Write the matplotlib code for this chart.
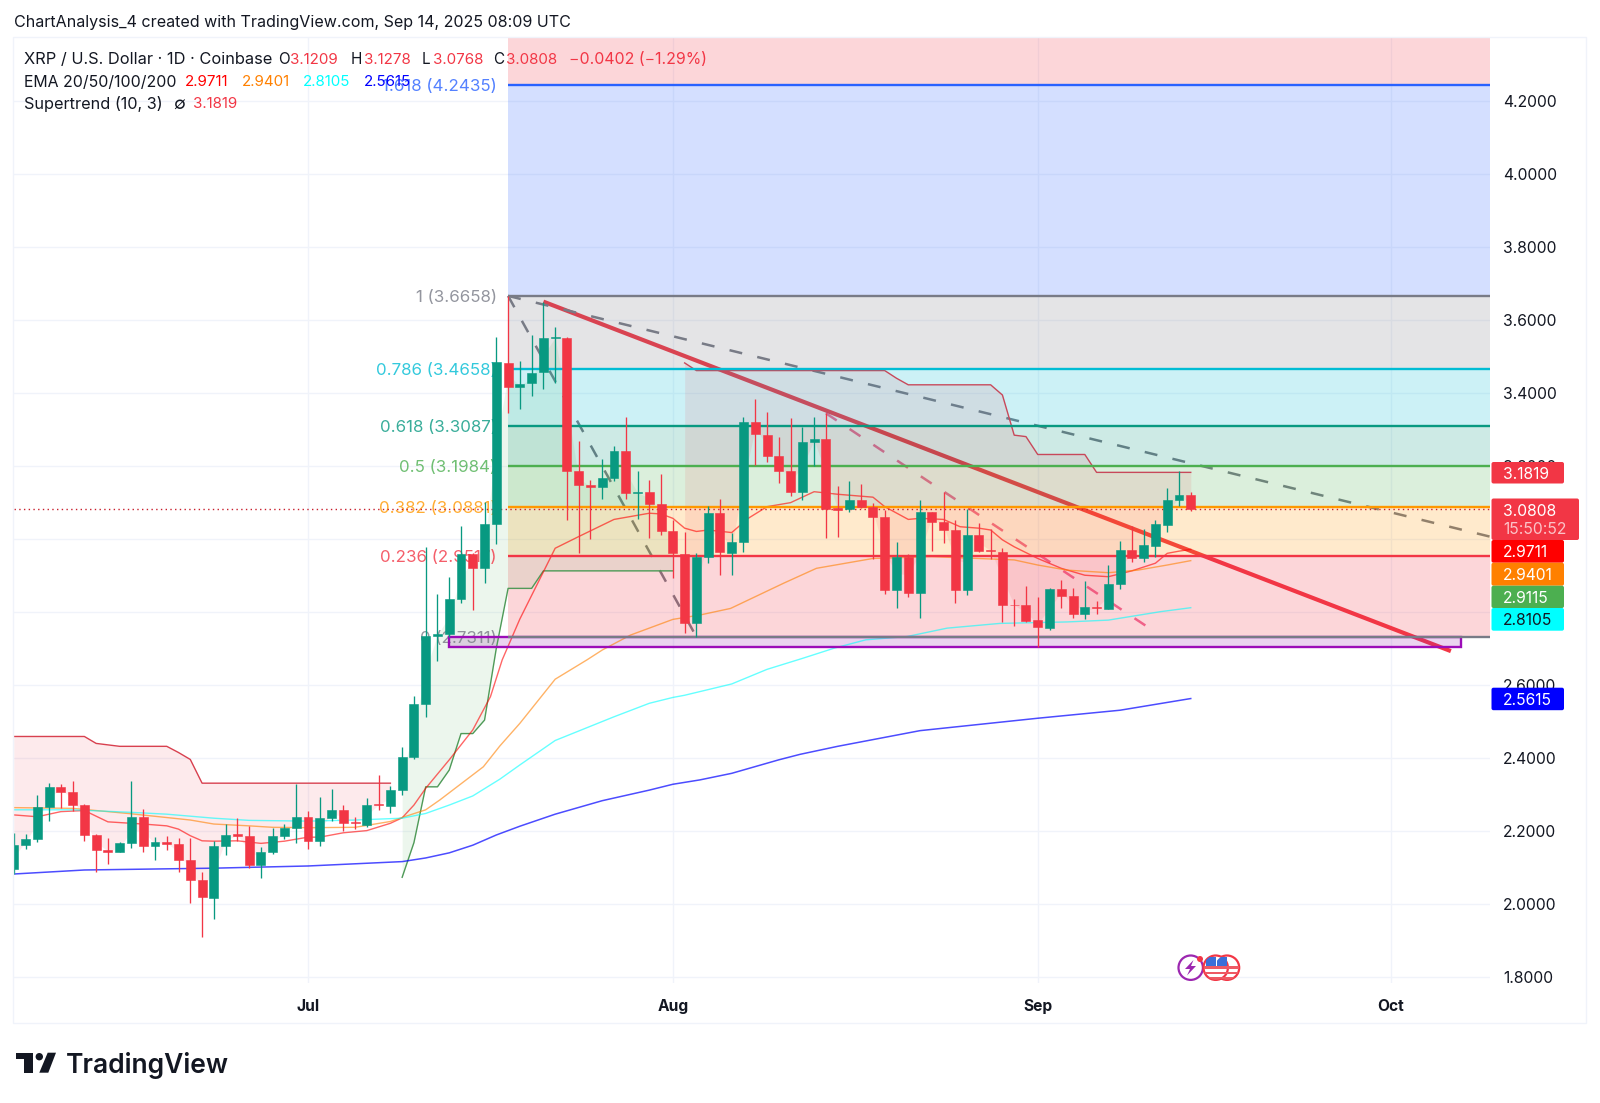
import numpy as np
import matplotlib
matplotlib.use('Agg')
import matplotlib.pyplot as plt
from matplotlib.patches import Rectangle, Circle, Polygon, FancyBboxPatch

plt.rcParams['font.family'] = ['Inter', 'DejaVu Sans']

# daily candles, day 0 = Jul 1 2025, last one = Sep 14
first_day = -25
opens = [2.095, 2.160, 2.176, 2.266, 2.320, 2.306, 2.270, 2.189, 2.147, 2.140,
         2.166, 2.237, 2.158, 2.170, 2.163, 2.119, 2.065, 2.016, 2.158, 2.190,
         2.186, 2.105, 2.141, 2.185, 2.206, 2.236, 2.172, 2.234, 2.257, 2.224,
         2.215, 2.273, 2.268, 2.311, 2.403, 2.547, 2.734, 2.739, 2.836, 2.958,
         2.919, 3.040, 3.483, 3.415, 3.426, 3.456, 3.550, 3.550, 3.185, 3.146,
         3.142, 3.166, 3.240, 3.125, 3.127, 3.096, 3.021, 2.958, 2.768, 2.949,
         3.071, 2.962, 2.991, 3.319, 3.285, 3.227, 3.187, 3.129, 3.266, 3.274,
         3.083, 3.081, 3.106, 3.088, 3.061, 2.860, 2.951, 2.850, 3.072, 3.046,
         3.024, 2.859, 3.011, 2.968, 2.965, 2.819, 2.818, 2.776, 2.756, 2.862,
         2.844, 2.794, 2.812, 2.807, 2.877, 2.969, 2.947, 2.981, 3.039, 3.106,
         3.121]
highs = [2.193, 2.192, 2.298, 2.331, 2.327, 2.337, 2.273, 2.191, 2.179, 2.170,
         2.337, 2.258, 2.183, 2.185, 2.179, 2.179, 2.087, 2.172, 2.217, 2.234,
         2.213, 2.155, 2.208, 2.219, 2.328, 2.254, 2.293, 2.314, 2.269, 2.236,
         2.289, 2.353, 2.322, 2.430, 2.570, 2.978, 2.849, 2.896, 3.035, 2.960,
         3.102, 3.552, 3.666, 3.487, 3.559, 3.650, 3.581, 3.552, 3.267, 3.161,
         3.220, 3.254, 3.333, 3.186, 3.161, 3.178, 3.051, 3.019, 2.962, 3.091,
         3.108, 3.017, 3.335, 3.383, 3.348, 3.278, 3.332, 3.307, 3.335, 3.344,
         3.145, 3.157, 3.150, 3.097, 3.079, 2.992, 2.957, 3.106, 3.072, 3.127,
         3.051, 3.081, 3.042, 3.026, 2.976, 2.835, 2.871, 2.839, 2.864, 2.887,
         2.864, 2.885, 2.829, 2.927, 2.995, 3.035, 3.026, 3.051, 3.138, 3.187,
         3.128]
lows = [2.081, 2.149, 2.170, 2.225, 2.263, 2.255, 2.172, 2.087, 2.109, 2.140,
        2.153, 2.141, 2.119, 2.147, 2.087, 2.001, 1.909, 1.959, 2.134, 2.172,
        2.097, 2.069, 2.135, 2.176, 2.165, 2.149, 2.158, 2.225, 2.199, 2.204,
        2.210, 2.256, 2.249, 2.298, 2.395, 2.512, 2.665, 2.732, 2.823, 2.805,
        2.880, 2.987, 3.344, 3.355, 3.390, 3.411, 3.426, 3.051, 2.962, 3.000,
        3.109, 3.157, 3.109, 3.055, 3.001, 3.010, 2.892, 2.741, 2.731, 2.933,
        2.900, 2.902, 2.965, 3.202, 3.210, 3.154, 3.118, 3.106, 3.200, 3.001,
        3.006, 3.074, 3.083, 2.944, 2.849, 2.810, 2.841, 2.783, 2.967, 2.989,
        2.823, 2.847, 2.963, 2.945, 2.773, 2.762, 2.771, 2.702, 2.750, 2.811,
        2.784, 2.779, 2.793, 2.807, 2.863, 2.935, 2.935, 2.951, 3.019, 3.091,
        3.077]
closes = [2.161, 2.176, 2.266, 2.320, 2.306, 2.270, 2.189, 2.147, 2.140, 2.165,
          2.237, 2.158, 2.170, 2.163, 2.119, 2.065, 2.018, 2.159, 2.189, 2.185,
          2.105, 2.142, 2.186, 2.207, 2.236, 2.172, 2.235, 2.257, 2.222, 2.221,
          2.270, 2.269, 2.311, 2.403, 2.547, 2.733, 2.738, 2.836, 2.958, 2.919,
          3.040, 3.485, 3.415, 3.425, 3.454, 3.551, 3.553, 3.185, 3.146, 3.142,
          3.166, 3.240, 3.125, 3.128, 3.096, 3.022, 2.960, 2.768, 2.949, 3.071,
          2.963, 2.991, 3.321, 3.286, 3.227, 3.187, 3.129, 3.266, 3.274, 3.082,
          3.080, 3.106, 3.088, 3.061, 2.860, 2.951, 2.850, 3.072, 3.046, 3.024,
          2.859, 3.011, 2.967, 2.967, 2.818, 2.818, 2.775, 2.759, 2.862, 2.844,
          2.794, 2.812, 2.809, 2.877, 2.969, 2.948, 2.984, 3.040, 3.105, 3.120,
          3.081]

# supertrend, one value per candle in each of the three runs
st_down1 = [2.458, 2.458, 2.458, 2.458, 2.458, 2.458, 2.458, 2.439, 2.435, 2.431,
            2.431, 2.431, 2.431, 2.431, 2.414, 2.395, 2.330, 2.330, 2.330, 2.330,
            2.330, 2.330, 2.330, 2.330, 2.330, 2.330, 2.330, 2.330, 2.330, 2.330,
            2.330, 2.330, 2.330]
st_up = [2.072, 2.167, 2.320, 2.320, 2.366, 2.466, 2.466, 2.503, 2.700, 2.864,
         2.864, 2.864, 2.912, 2.912, 2.912, 2.912, 2.912, 2.912, 2.912, 2.912,
         2.912, 2.912, 2.912, 2.912]
st_down2 = [3.482, 3.461, 3.461, 3.461, 3.461, 3.461, 3.461, 3.461, 3.461, 3.461,
            3.461, 3.461, 3.461, 3.461, 3.461, 3.461, 3.461, 3.461, 3.440, 3.422,
            3.422, 3.422, 3.422, 3.422, 3.422, 3.422, 3.422, 3.394, 3.284, 3.280,
            3.231, 3.231, 3.231, 3.231, 3.231, 3.182, 3.182, 3.182, 3.182, 3.182,
            3.182, 3.182, 3.182, 3.182]

# emas read at the days where the curve is easy to read
ema20_days = [-25, -23, -21, -19, -17, -14, -12, -11, -10, -9, -8, -6, -4, -2, 0, 1, 3, 5, 7, 8, 9, 10, 12,
              14, 15.5, 16.5, 18, 21, 23, 26, 29, 30, 31, 32, 33, 34, 36, 37.4, 39, 41, 43, 45, 48, 49, 51,
              52, 54, 55.4, 57, 58, 59, 60, 62, 64, 66, 68, 70, 72, 73, 74, 75]
ema20 = [2.243, 2.238, 2.252, 2.255, 2.224, 2.218, 2.213, 2.204, 2.186, 2.172, 2.171, 2.172, 2.165, 2.171,
         2.182, 2.182, 2.194, 2.200, 2.220, 2.235, 2.270, 2.316, 2.394,
         2.476, 2.567, 2.668, 2.780, 2.974, 3.006, 3.053, 3.070, 3.068, 3.056, 3.029, 3.020, 3.024, 3.017,
         3.056, 3.088, 3.099, 3.129, 3.122, 3.114, 3.088, 3.053, 3.056, 3.053, 3.033, 3.029, 3.024, 2.997,
         2.978, 2.946, 2.919, 2.900, 2.896, 2.912, 2.933, 2.960, 2.966, 2.971]
ema50_days = [-25, -20, -15, -10, -8, -5, -3, 0, 4, 7, 8, 10, 11.2, 14.9, 16.3, 18, 21, 23.7, 25, 27.4, 31,
              33.3, 35.9, 40.4, 43.2, 48, 53, 60, 62, 64.5, 68, 70.5, 73, 75]
ema50 = [2.263, 2.261, 2.246, 2.229, 2.218, 2.213, 2.209, 2.208, 2.209, 2.225, 2.236, 2.257, 2.284, 2.375,
         2.432, 2.494, 2.615, 2.668, 2.695, 2.736, 2.779, 2.791, 2.809, 2.878, 2.919, 2.946, 2.951, 2.942,
         2.928, 2.914, 2.907, 2.914, 2.928, 2.940]
ema100_days = [-25, -20, -15, -12, -8, -5, 0, 4, 8, 10, 12, 14, 15.5, 16.3, 18, 21, 26, 29, 31, 32, 36, 39,
               42, 44.7, 47.4, 50.9, 54.3, 58.8, 64.5, 68, 72.4, 75]
ema100 = [2.257, 2.257, 2.250, 2.245, 2.234, 2.228, 2.226, 2.229, 2.234, 2.247, 2.270, 2.295, 2.325, 2.341,
          2.380, 2.447, 2.512, 2.549, 2.565, 2.571, 2.602, 2.642, 2.672, 2.700, 2.723, 2.732, 2.755, 2.768,
          2.772, 2.777, 2.800, 2.811]
ema200_days = [-25, -19, -8, 0, 8, 10, 12, 14, 16, 18, 21, 25, 29, 31, 33.3, 36, 40, 41.8, 45, 52, 62, 69, 75]
ema200 = [2.081, 2.092, 2.097, 2.103, 2.115, 2.125, 2.139, 2.160, 2.188, 2.212, 2.245, 2.282, 2.311, 2.327,
          2.339, 2.357, 2.394, 2.409, 2.431, 2.474, 2.508, 2.530, 2.562]

# fib retracement
fib_start = 17
fib_ratios = ['1.618', '1', '0.786', '0.618', '0.5', '0.382', '0.236', '0']
fib_prices = [4.2435, 3.6658, 3.4658, 3.3087, 3.1984, 3.0881, 2.9517, 2.7311]
fib_colors = ['#2962ff', '#787b86', '#00bcd4', '#089981', '#4caf50', '#ff9800', '#f23645', '#787b86']
fib_fills = ['#2962ff', '#787b86', '#00bcd4', '#089981', '#4caf50', '#ff9800', '#f23645']
fib_top_fill = '#f23645'

# hand drawn lines: (day, price) ends
trend_days = [20, 97.1]
trend_prices = [3.650, 2.692]
dash1_days = [17, 100.4]
dash1_prices = [3.6658, 3.006]
dash2_days = [17, 33]
dash2_prices = [3.6658, 2.7311]
dash3_days = [44, 72]
dash3_prices = [3.344, 2.744]
box_days = [12, 98]
box_prices = [2.7026, 2.7311]

last_price = 3.0808
month_days = [0, 31, 62, 92]
month_names = ['Jul', 'Aug', 'Sep', 'Oct']
price_ticks = [1.8, 2.0, 2.2, 2.4, 2.6, 2.8, 3.0, 3.2, 3.4, 3.6, 3.8, 4.0, 4.2]
# these two sit fully behind the price tags
hidden_ticks = [2.8, 3.0]

UP = '#089981'
DOWN = '#f23645'
TEXT = '#131722'
GRID = '#f0f3fa'

# pixel frame of the pane in the 1600x1103 picture
pane_l, pane_r, pane_t, pane_b = 14, 1490, 37, 983
px_per_day = 11.77
px_per_unit = 364.8

fig = plt.figure(figsize=(16, 11.03), dpi=100, facecolor='white')
ax = fig.add_axes([pane_l / 1600, 1 - pane_b / 1103, (pane_r - pane_l) / 1600, (pane_b - pane_t) / 1103])
ax.set_xlim((pane_l - 308) / px_per_day, (pane_r - 308) / px_per_day)
ax.set_ylim(4.2 - (pane_b - 101) / px_per_unit, 4.2 + (101 - pane_t) / px_per_unit)
for s in ax.spines.values():
    s.set_visible(False)

ax.yaxis.tick_right()
ax.set_yticks(price_ticks)
ax.set_yticklabels(['' if p in hidden_ticks else '%.4f' % p for p in price_ticks], fontsize=11.3, color=TEXT)
ax.set_xticks(month_days)
ax.set_xticklabels(month_names, fontsize=11.2, color=TEXT, fontweight='bold')
ax.tick_params(axis='y', length=0, pad=9.5)
ax.tick_params(axis='x', length=0, pad=11.4)
ax.grid(True, color=GRID, lw=1)
ax.set_axisbelow(True)

days = np.arange(first_day, first_day + len(opens))
o = np.array(opens)
c = np.array(closes)
mid = (o + c) / 2

# drawings sit under the fib fill
ax.plot(trend_days, trend_prices, color=DOWN, lw=3, solid_capstyle='butt', zorder=2)
for xs, ys, col, a in [(dash1_days, dash1_prices, '#787b86', 1), (dash2_days, dash2_prices, '#787b86', 1),
                       (dash3_days, dash3_prices, '#e91e63', 0.65)]:
    ax.plot(xs, ys, color=col, lw=1.8, alpha=a, dashes=(5.2, 6.2), zorder=2)

ax.add_patch(Rectangle((box_days[0], box_prices[0]), box_days[1] - box_days[0], box_prices[1] - box_prices[0],
                       facecolor='#9c27b0', alpha=0.2, lw=0, zorder=2))
ax.add_patch(Rectangle((box_days[0], box_prices[0]), box_days[1] - box_days[0], box_prices[1] - box_prices[0],
                       facecolor='none', edgecolor='#9c0cb8', lw=1.7, zorder=4.0))

# fib bands and lines
x_end = ax.get_xlim()[1]
y_top = ax.get_ylim()[1]
ax.fill_between([fib_start, x_end], fib_prices[0], y_top, color=fib_top_fill, alpha=0.2, lw=0, zorder=3)
for i, col in enumerate(fib_fills):
    ax.fill_between([fib_start, x_end], fib_prices[i + 1], fib_prices[i], color=col, alpha=0.2, lw=0, zorder=3)
for ratio, price, col in zip(fib_ratios, fib_prices, fib_colors):
    ax.plot([fib_start, x_end], [price, price], color=col, lw=1.7, solid_capstyle='butt', zorder=4.1)
    ax.text(fib_start - 0.98, price, '%s (%.4f)' % (ratio, price), color=col, alpha=0.8, fontsize=12.2,
            ha='right', va='center_baseline', zorder=3.5)

# supertrend
n1, n2 = len(st_down1), len(st_up)
runs = [(days[:n1], st_down1, mid[:n1], DOWN, '#d8404f'),
        (days[n1:n1 + n2], st_up, mid[n1:n1 + n2], '#4caf50', '#4f9a58'),
        (days[n1 + n2:], st_down2, mid[n1 + n2:], DOWN, '#c8485a')]
for xs, line, body, fill_col, line_col in runs:
    ax.fill_between(xs, line, body, color=fill_col, alpha=0.1, lw=0, zorder=3.2)
    ax.plot(xs, line, color=line_col, lw=1, zorder=3.6)

ax.plot(ema20_days, ema20, color='#ff0000', lw=1, alpha=0.6, zorder=3.7)
ax.plot(ema50_days, ema50, color='#ff8000', lw=1, alpha=0.6, zorder=3.7)
ax.plot(ema100_days, ema100, color='#00ffff', lw=1, alpha=0.6, zorder=3.7)
ax.plot(ema200_days, ema200, color='#0000ff', lw=1.1, alpha=0.7, zorder=3.7)

ax.axhline(last_price, color='#c81e2c', lw=1, dashes=(1, 2.4), zorder=4.3)

# candles
colors = [UP if b >= a else DOWN for a, b in zip(opens, closes)]
ax.vlines(days, lows, highs, colors=colors, lw=0.95, zorder=5)
ax.bar(days, np.abs(c - o), bottom=np.minimum(o, c), width=0.76, color=colors, edgecolor=colors, lw=0.4, zorder=5.1)

# everything else is placed in picture pixels on a full size overlay
ov = fig.add_axes([0, 0, 1, 1], zorder=10)
ov.set_xlim(0, 1600)
ov.set_ylim(1103, 0)
ov.axis('off')
ov.patch.set_alpha(0)

ov.add_patch(Rectangle((13, 37), 1573, 986, facecolor='none', edgecolor=GRID, lw=1))

ov.text(14, 21.5, 'ChartAnalysis_4 created with TradingView.com, Sep 14, 2025 08:09 UTC', fontsize=11.55,
        color=TEXT, va='center_baseline')

row_x = [24.3, 277.8, 290, 351, 363.6, 422, 432.5, 493.6, 506, 569,
         24.3, 185, 242, 303, 364,
         24.3, 173.5, 193]
row_y = [58, 58, 58, 58, 58, 58, 58, 58, 58, 58,
         80.6, 80.6, 80.6, 80.6, 80.6,
         103, 103, 103]
row_s = ['XRP / U.S. Dollar · 1D · Coinbase', 'O', '3.1209', 'H', '3.1278', 'L', '3.0768', 'C', '3.0808',
         '−0.0402 (−1.29%)',
         'EMA 20/50/100/200', '2.9711', '2.9401', '2.8105', '2.5615',
         'Supertrend (10, 3)', '∅', '3.1819']
row_c = [TEXT, TEXT, DOWN, TEXT, DOWN, TEXT, DOWN, TEXT, DOWN, DOWN,
         TEXT, '#ff0000', '#ff8000', '#00ffff', '#0000ff',
         TEXT, TEXT, DOWN]
row_fs = [11.8, 11, 10.9, 11, 10.9, 11, 10.9, 11, 10.9, 11.4,
          11.4, 10.9, 10.9, 10.9, 10.9,
          11.7, 12.5, 10.9]
for x, y, s, col, fs in zip(row_x, row_y, row_s, row_c, row_fs):
    ov.text(x, y, s, fontsize=fs, color=col, va='center_baseline')

# price tags on the scale
tag_texts = ['3.1819', '3.0808', '2.9711', '2.9401', '2.9115', '2.8105', '2.5615']
tag_tops = [462, 498.5, 540, 562.7, 585.7, 608, 687.7]
tag_heights = [21.5, 41.5, 22.7, 23, 22.3, 22.7, 22.5]
tag_widths = [72.5, 87.5, 72.5, 72.5, 72.5, 72.5, 72.5]
tag_colors = [DOWN, DOWN, '#ff0000', '#ff8000', '#4caf50', '#00ffff', '#0000ff']
tag_fg = ['white', 'white', 'white', 'white', 'white', TEXT, 'white']
for s, top, h, w, bg, fg in zip(tag_texts, tag_tops, tag_heights, tag_widths, tag_colors, tag_fg):
    ov.add_patch(FancyBboxPatch((1491.5, top), w, h, boxstyle='round,pad=0,rounding_size=2', facecolor=bg,
                                edgecolor='none'))
    y = top + 11 if h > 30 else top + h / 2
    ov.text(1503, y, s, fontsize=11.3, color=fg, va='center_baseline')
ov.text(1503, 528.5, '15:50:52', fontsize=11.3, color='white', alpha=0.7, va='center_baseline')

# event icons
ov.add_patch(Circle((1190.7, 967.7), 12.2, facecolor='white', edgecolor='#9c27b0', lw=1.6))
ov.add_patch(Polygon([(1193.5, 960), (1185, 969), (1190, 969), (1187, 975.5), (1196, 966), (1191, 966)],
                     facecolor='#9c27b0', edgecolor='none'))
for cx in [1227, 1215.7]:
    ring = Circle((cx, 967.7), 12.2, facecolor='white', edgecolor=DOWN, lw=1.6, zorder=4)
    ov.add_patch(ring)
    for sy in [966, 971.5, 977]:
        st = Rectangle((cx - 12, sy), 24, 2.5, facecolor='#ee5a64', edgecolor='none', zorder=4.1)
        ov.add_patch(st)
        st.set_clip_path(ring)
    canton = Rectangle((cx - 10, 957), 10, 9, facecolor='#3b6fd8', edgecolor='none', zorder=4.2)
    ov.add_patch(canton)
    canton.set_clip_path(ring)
ov.add_patch(Circle((1200, 959), 3, facecolor=DOWN, edgecolor='none', zorder=5))

# logo
ov.add_patch(Polygon([(16, 1052.7), (32.7, 1052.7), (32.7, 1072.7), (24, 1072.7), (24, 1059.4), (16, 1059.4)],
                     facecolor='#131722', edgecolor='none'))
ov.add_patch(Circle((39.3, 1056.7), 3.7, facecolor='#131722', edgecolor='none'))
ov.add_patch(Polygon([(47.7, 1052.7), (56, 1052.7), (48.3, 1072.7), (39.3, 1072.7)], facecolor='#131722',
                     edgecolor='none'))
ov.text(65.5, 1072.7, 'TradingView', fontsize=19, fontweight='semibold', color='#131722', va='baseline')

fig.savefig('out.png', dpi=100)
